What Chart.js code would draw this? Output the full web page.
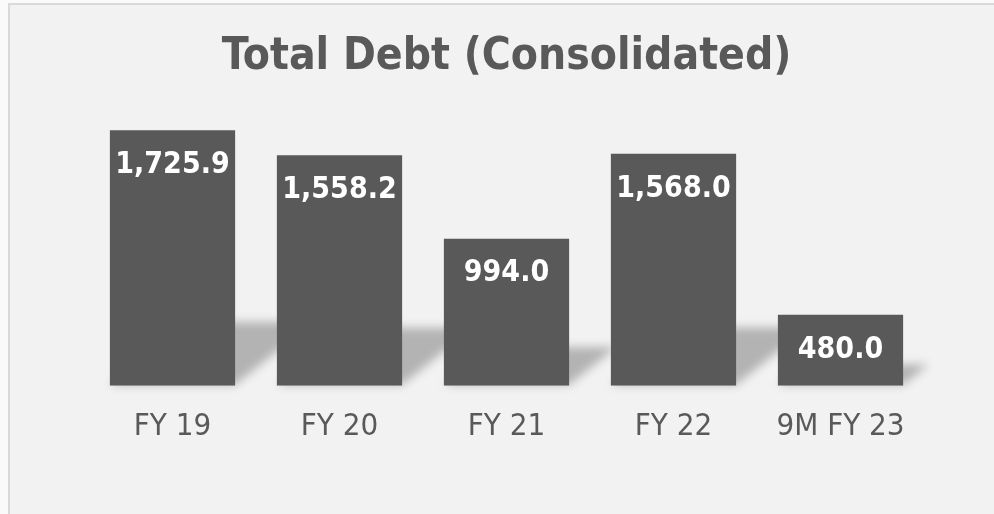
<!DOCTYPE html>
<html>
<head>
<meta charset="utf-8">
<script src="https://cdn.jsdelivr.net/npm/chart.js@4.4.0/dist/chart.umd.min.js"></script>
<style>
  body { margin: 0; background: #fafafa; }
  #frame {
    position: absolute; left: 8px; top: 3px; width: 986px; height: 511px;
    background: #f2f2f2; border-left: 2px solid #d9d9d9; border-top: 2px solid #d9d9d9;
  }
  #wrap { position: absolute; left: 0; top: 0; width: 984px; height: 509px; }
</style>
</head>
<body>
<div id="frame"><div id="wrap"><canvas id="debtChart"></canvas></div></div>
<script>
// Chart data
const categories = ["FY 19", "FY 20", "FY 21", "FY 22", "9M FY 23"];
const debtValues = [1725.9, 1558.2, 994.0, 1568.0, 480.0];
const chartTitle = "Total Debt (Consolidated)";

const FONT = "'DejaVu Sans Condensed', 'DejaVu Sans', sans-serif";

// perspective shadow cast up and to the right of each bar
const barShadow = {
  id: "barShadow",
  beforeDatasetsDraw(chart) {
    const ctx = chart.ctx;
    const meta = chart.getDatasetMeta(0);
    ctx.save();
    ctx.filter = "blur(5px)";
    ctx.fillStyle = "rgba(0,0,0,0.26)";
    meta.data.forEach((bar) => {
      const left = bar.x - bar.width / 2;
      const right = bar.x + bar.width / 2;
      const base = bar.base - 1;
      const hh = (bar.base - bar.y) * 0.23 + 4; // shadow height
      const dx = hh / 0.8;
      ctx.beginPath();
      ctx.moveTo(left, base);
      ctx.lineTo(right, base);
      ctx.lineTo(right + dx, base - hh);
      ctx.lineTo(left + dx, base - hh);
      ctx.closePath();
      ctx.fill();
    });
    ctx.restore();
  },
};

// white value labels near the top of each bar
const valueLabels = {
  id: "valueLabels",
  afterDatasetsDraw(chart) {
    const ctx = chart.ctx;
    const meta = chart.getDatasetMeta(0);
    ctx.save();
    ctx.fillStyle = "#ffffff";
    ctx.font = "bold 30px " + FONT;
    ctx.textAlign = "center";
    ctx.textBaseline = "middle";
    meta.data.forEach((bar, i) => {
      const txt = debtValues[i].toLocaleString("en-US", { minimumFractionDigits: 1, maximumFractionDigits: 1 });
      ctx.fillText(txt, bar.x, bar.y + 35);
    });
    ctx.restore();
  },
};

const ctx = document.getElementById("debtChart").getContext("2d");
new Chart(ctx, {
  type: "bar",
  data: {
    labels: categories,
    datasets: [
      {
        data: debtValues,
        backgroundColor: "#595959",
        borderWidth: 0,
        categoryPercentage: 0.75,
        barPercentage: 1.0,
      },
    ],
  },
  options: {
    responsive: true,
    maintainAspectRatio: false,
    animation: false,
    layout: { padding: { left: 79, right: 70, top: 14, bottom: 45 } },
    scales: {
      x: {
        grid: { display: false, drawTicks: false },
        border: { display: false },
        ticks: { color: "#595959", font: { family: FONT, size: 31 }, padding: 23 },
      },
      y: {
        display: false,
        min: 0,
        max: 2000,
      },
    },
    plugins: {
      legend: { display: false },
      tooltip: { enabled: false },
      title: {
        display: true,
        text: chartTitle,
        color: "#595959",
        font: { family: FONT, size: 44, weight: "bold" },
        padding: { top: 12, bottom: 6 },
      },
    },
  },
  plugins: [barShadow, valueLabels],
});
</script>
</body>
</html>
